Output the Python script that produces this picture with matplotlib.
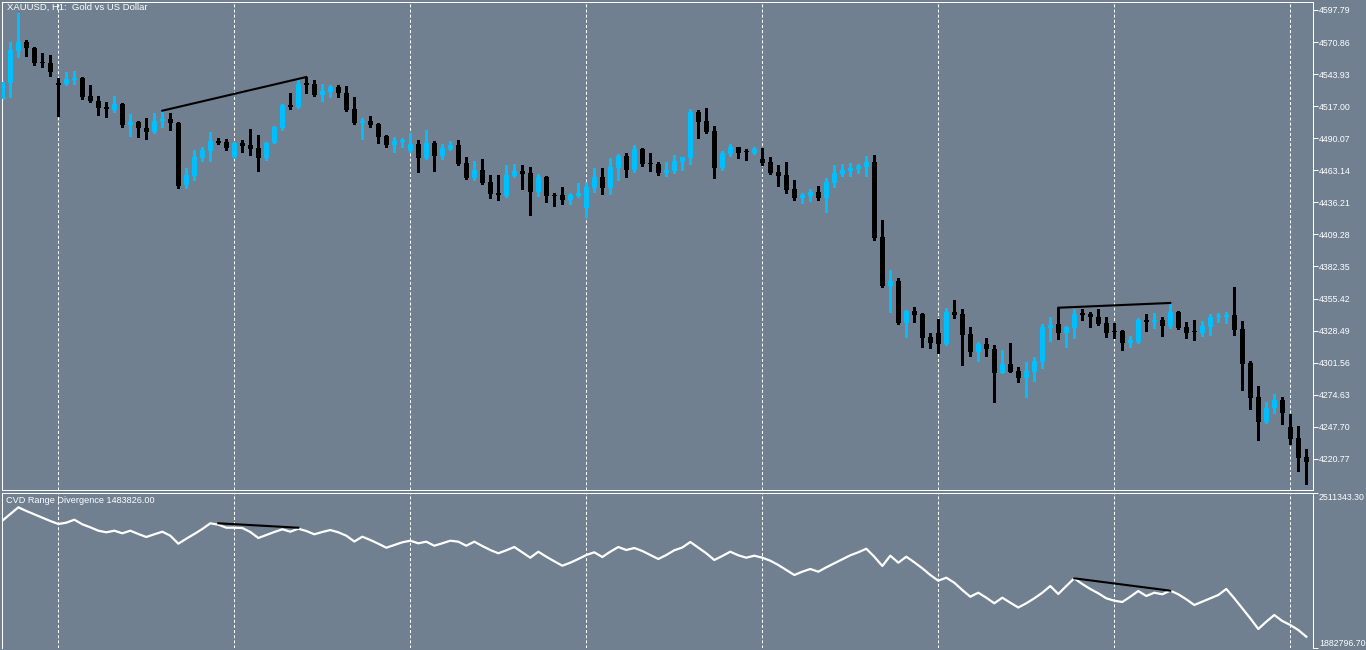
import numpy as np
import matplotlib
matplotlib.use('Agg')
import matplotlib.pyplot as plt

plt.rcParams['font.family'] = ['Liberation Sans', 'DejaVu Sans']
plt.rcParams['lines.scale_dashes'] = False

# XAUUSD H1 bars (oldest -> newest)
open_ = [4523.0, 4536.5, 4563.4, 4570.9, 4565.9, 4553.7, 4553.3, 4535.6, 4535.6, 4539.0,
         4540.7, 4525.6, 4521.4, 4516.3, 4513.8, 4518.8, 4501.2, 4503.7, 4498.7, 4495.3,
         4504.6, 4506.2, 4502.9, 4450.8, 4458.4, 4473.5, 4479.4, 4487.8, 4486.9, 4474.3,
         4486.1, 4484.4, 4481.9, 4473.5, 4486.1, 4498.7, 4518.0, 4516.3, 4535.6, 4535.6,
         4526.4, 4528.9, 4533.1, 4528.1, 4514.6, 4502.9, 4504.6, 4502.0, 4492.0, 4484.4,
         4486.9, 4479.4, 4485.2, 4473.5, 4486.1, 4475.2, 4481.0, 4484.4, 4469.3, 4456.7,
         4463.4, 4453.3, 4444.1, 4441.6, 4458.4, 4462.6, 4460.9, 4444.9, 4457.5, 4442.4,
         4442.4, 4438.2, 4441.6, 4431.5, 4448.3, 4457.5, 4448.3, 4465.1, 4475.2, 4463.4,
         4481.0, 4469.3, 4468.4, 4460.9, 4462.6, 4470.1, 4473.5, 4512.1, 4504.6, 4496.2,
         4465.1, 4476.8, 4482.7, 4478.9, 4477.7, 4472.6, 4470.1, 4461.7, 4459.2, 4447.4,
         4439.9, 4441.6, 4444.9, 4439.9, 4452.5, 4460.0, 4462.6, 4464.2, 4465.9, 4470.1,
         4407.1, 4366.0, 4370.2, 4334.9, 4345.0, 4342.4, 4323.1, 4326.5, 4317.2, 4344.1,
         4342.4, 4325.6, 4310.5, 4317.2, 4313.0, 4292.9, 4300.4, 4294.6, 4288.7, 4293.7,
         4302.1, 4330.7, 4334.0, 4326.5, 4330.7, 4342.9, 4342.4, 4339.9, 4334.9, 4328.2,
         4328.2, 4318.1, 4318.9, 4337.4, 4335.7, 4337.4, 4332.4, 4344.1, 4331.5, 4327.3,
         4326.5, 4331.5, 4339.9, 4339.9, 4341.6, 4329.8, 4301.3, 4272.7, 4251.7, 4263.5,
         4270.2, 4247.5, 4238.3, 4222.3]
high = [4539.0, 4570.9, 4595.3, 4572.6, 4566.7, 4561.7, 4560.0, 4540.7, 4545.7, 4546.6,
        4541.5, 4534.8, 4525.6, 4520.5, 4525.6, 4519.7, 4510.4, 4504.6, 4507.1, 4511.3,
        4513.0, 4511.3, 4503.7, 4465.1, 4480.2, 4482.7, 4495.3, 4490.3, 4489.4, 4486.9,
        4488.6, 4497.8, 4492.8, 4486.9, 4500.4, 4518.8, 4528.1, 4539.0, 4541.5, 4539.0,
        4535.6, 4534.8, 4534.8, 4534.0, 4524.7, 4507.1, 4508.8, 4502.9, 4492.4, 4491.1,
        4490.3, 4494.5, 4488.6, 4497.0, 4487.8, 4485.2, 4487.8, 4488.6, 4474.3, 4471.0,
        4472.6, 4459.2, 4459.2, 4467.6, 4468.4, 4467.6, 4465.9, 4460.0, 4458.4, 4444.1,
        4449.1, 4444.1, 4452.5, 4453.3, 4465.1, 4465.1, 4473.5, 4476.8, 4477.7, 4484.4,
        4481.9, 4477.7, 4470.1, 4470.1, 4476.0, 4474.7, 4514.6, 4513.8, 4515.5, 4500.4,
        4479.4, 4485.2, 4483.1, 4481.0, 4482.7, 4481.9, 4474.3, 4467.6, 4470.1, 4455.0,
        4444.1, 4447.4, 4450.0, 4456.7, 4467.6, 4468.4, 4469.3, 4468.4, 4475.2, 4476.0,
        4421.4, 4379.4, 4372.7, 4345.8, 4348.3, 4343.3, 4326.5, 4338.2, 4347.5, 4354.2,
        4346.6, 4331.5, 4318.9, 4322.3, 4316.4, 4312.2, 4318.1, 4297.9, 4302.1, 4306.3,
        4334.0, 4339.9, 4347.5, 4332.4, 4346.6, 4346.6, 4344.1, 4346.6, 4339.9, 4334.9,
        4329.0, 4324.0, 4339.1, 4342.4, 4343.3, 4339.9, 4351.7, 4344.9, 4335.7, 4337.4,
        4336.6, 4342.4, 4343.3, 4344.1, 4365.1, 4336.6, 4303.0, 4282.0, 4268.5, 4275.2,
        4272.7, 4258.4, 4248.4, 4229.0]
low = [4522.2, 4524.7, 4558.3, 4559.2, 4551.6, 4549.9, 4542.4, 4508.8, 4534.8, 4535.6,
       4523.0, 4520.5, 4509.6, 4507.9, 4512.1, 4499.5, 4492.0, 4491.1, 4489.4, 4494.5,
       4499.5, 4497.0, 4448.3, 4448.3, 4455.0, 4471.0, 4471.0, 4485.2, 4480.2, 4473.5,
       4478.5, 4476.0, 4462.6, 4471.8, 4485.7, 4497.0, 4514.6, 4515.5, 4528.1, 4525.6,
       4521.4, 4524.7, 4524.7, 4513.0, 4502.0, 4489.4, 4499.5, 4486.1, 4482.7, 4478.5,
       4482.7, 4478.5, 4461.7, 4472.6, 4462.6, 4472.6, 4480.2, 4467.6, 4455.8, 4455.0,
       4451.6, 4439.9, 4438.2, 4440.7, 4457.5, 4447.4, 4425.6, 4441.6, 4436.5, 4433.2,
       4434.8, 4434.8, 4440.7, 4423.9, 4444.9, 4443.2, 4443.2, 4455.0, 4457.5, 4461.7,
       4466.8, 4462.6, 4459.2, 4458.4, 4460.9, 4463.4, 4468.4, 4490.3, 4494.5, 4456.7,
       4463.4, 4475.2, 4473.5, 4471.8, 4476.8, 4467.6, 4460.0, 4449.9, 4444.1, 4438.2,
       4435.7, 4437.4, 4438.2, 4428.1, 4449.1, 4458.4, 4458.4, 4460.9, 4458.4, 4404.6,
       4365.1, 4344.1, 4334.0, 4323.1, 4335.7, 4314.7, 4313.9, 4309.7, 4316.8, 4339.1,
       4299.6, 4307.2, 4303.0, 4307.2, 4268.5, 4292.5, 4293.3, 4285.3, 4272.7, 4286.2,
       4297.1, 4319.8, 4321.4, 4314.7, 4322.3, 4337.4, 4331.5, 4333.2, 4323.1, 4322.3,
       4312.2, 4314.7, 4318.1, 4328.2, 4330.7, 4324.0, 4330.7, 4329.8, 4322.3, 4320.6,
       4324.0, 4324.8, 4335.7, 4334.9, 4324.8, 4278.6, 4262.6, 4236.6, 4250.9, 4259.3,
       4250.0, 4233.2, 4210.6, 4199.6]
close = [4537.3, 4564.2, 4570.9, 4565.9, 4553.3, 4552.9, 4545.7, 4535.2, 4539.8, 4540.7,
         4524.7, 4521.4, 4515.5, 4514.6, 4518.8, 4501.2, 4503.7, 4498.7, 4495.3, 4504.6,
         4506.2, 4502.9, 4450.0, 4459.2, 4474.3, 4480.2, 4487.8, 4486.1, 4481.9, 4486.1,
         4483.6, 4481.0, 4473.5, 4486.1, 4499.5, 4518.0, 4516.3, 4535.6, 4535.2, 4526.4,
         4529.8, 4533.1, 4528.1, 4513.8, 4502.9, 4504.6, 4501.2, 4491.1, 4484.4, 4487.8,
         4488.6, 4485.2, 4473.5, 4486.1, 4475.2, 4481.9, 4484.4, 4468.4, 4456.7, 4463.4,
         4452.5, 4443.2, 4442.4, 4459.2, 4462.6, 4460.0, 4444.9, 4457.5, 4441.6, 4441.6,
         4438.2, 4442.4, 4444.1, 4449.1, 4457.5, 4448.3, 4465.9, 4475.2, 4463.4, 4481.0,
         4468.4, 4468.4, 4460.9, 4463.4, 4471.0, 4474.3, 4512.1, 4503.7, 4495.3, 4465.1,
         4477.7, 4482.7, 4477.7, 4478.1, 4481.0, 4469.3, 4460.9, 4458.4, 4446.6, 4439.9,
         4442.4, 4444.9, 4439.9, 4453.3, 4460.9, 4463.4, 4465.1, 4466.8, 4470.1, 4406.3,
         4366.0, 4370.2, 4334.9, 4345.0, 4341.6, 4322.3, 4318.1, 4317.2, 4344.1, 4341.6,
         4324.8, 4310.5, 4317.2, 4313.0, 4292.9, 4300.4, 4293.7, 4288.7, 4294.6, 4303.0,
         4331.5, 4333.2, 4326.5, 4331.5, 4342.4, 4342.0, 4339.9, 4334.0, 4326.5, 4327.3,
         4318.1, 4320.6, 4337.4, 4335.7, 4337.4, 4332.4, 4344.1, 4330.7, 4326.5, 4326.9,
         4332.4, 4339.9, 4340.8, 4341.6, 4329.0, 4300.4, 4271.9, 4251.7, 4263.5, 4270.2,
         4259.3, 4237.4, 4221.5, 4218.1]

# CVD Range Divergence indicator
cvd = [2399000, 2426200, 2453300, 2438400, 2425000, 2411200, 2397800, 2385600, 2390900, 2403100,
       2384400, 2372200, 2358500, 2352000, 2358500, 2347900, 2358500, 2345100, 2332900, 2343900,
       2354400, 2338200, 2305800, 2326000, 2345100, 2365400, 2388500, 2382800, 2370600, 2370600,
       2369400, 2353200, 2328900, 2341000, 2353200, 2364100, 2354400, 2366600, 2357200, 2343900,
       2353200, 2361300, 2352000, 2338200, 2314700, 2334100, 2320800, 2305800, 2289500, 2300500,
       2311400, 2317900, 2307400, 2313900, 2297600, 2307400, 2317900, 2313900, 2297600, 2313900,
       2296400, 2280200, 2266800, 2279000, 2292400, 2270900, 2249000, 2273300, 2253000, 2234400,
       2216500, 2228700, 2243700, 2259900, 2270900, 2251800, 2273300, 2292400, 2280200, 2288300,
       2276200, 2259900, 2243700, 2259900, 2279000, 2290300, 2312700, 2289500, 2266800, 2239700,
       2255900, 2273300, 2258700, 2249000, 2257100, 2249000, 2236800, 2219400, 2199100, 2178800,
       2192200, 2203200, 2192200, 2210000, 2226300, 2242500, 2258700, 2270900, 2285500, 2253000,
       2215300, 2257100, 2228700, 2253000, 2230300, 2206000, 2178800, 2155700, 2167900, 2147600,
       2118000, 2090800, 2107000, 2086800, 2064100, 2086800, 2066500, 2047000, 2064100, 2084300,
       2107000, 2134200, 2101800, 2134200, 2165400, 2142300, 2122100, 2104600, 2084300, 2074600,
       2069300, 2090800, 2113900, 2093700, 2107000, 2100600, 2115200, 2100600, 2080300, 2057200,
       2070600, 2084300, 2097700, 2122100, 2084300, 2043800, 2003200, 1959800, 1989500, 2016600,
       1992300, 1976100, 1955800, 1928600]

# divergence lines: (bar index, value)
price_div = [([20, 38], [4513.2, 4541.5]), ([132, 146], [4347.7, 4351.7])]
cvd_div = [([27, 37], [2388500, 2370600]), ([134, 146], [2165400, 2115200])]

# day separators (bar index)
day_breaks = [7, 29, 51, 73, 95, 117, 139, 161]

price_ticks = [4597.79, 4570.86, 4543.93, 4517.00, 4490.07, 4463.14, 4436.21, 4409.28,
               4382.35, 4355.42, 4328.49, 4301.56, 4274.63, 4247.70, 4220.77]
cvd_range = [1882796.70, 2511343.30]

title = 'XAUUSD, H1:  Gold vs US Dollar'
ind_title = 'CVD Range Divergence 1483826.00'

BG = '#708090'
BULL = '#00BFFF'
BEAR = '#000000'
FG = '#FFFFFF'
W, H = 1366, 650
FS = 6.3


def frac(l, t, r, b):
    return [l / W, 1 - b / H, (r - l) / W, (b - t) / H]


fig = plt.figure(figsize=(W / 100, H / 100), dpi=100, facecolor=BG)
ax = fig.add_axes(frac(2, 1.7, 1313, 490), facecolor=BG)
ax2 = fig.add_axes(frac(2, 493, 1313, 648), facecolor=BG)

o = np.array(open_)
h = np.array(high)
l = np.array(low)
c = np.array(close)
x = np.arange(len(c))
col = np.where(c > o, BULL, BEAR)

ax.vlines(x, l, h, colors=col, lw=0.8, antialiased=False, zorder=2)
ax.bar(x, np.maximum(np.abs(c - o), 0.9), bottom=np.minimum(o, c), width=0.62,
       color=col, linewidth=0, antialiased=False, zorder=3)
for xs, ys in price_div:
    ax.plot(xs, ys, color='black', lw=1.5, zorder=4)

ax2.plot(x, cvd, color=FG, lw=1.6, zorder=3)
for xs, ys in cvd_div:
    ax2.plot(xs, ys, color='black', lw=1.5, zorder=4)

for a in (ax, ax2):
    for k in day_breaks:
        a.axvline(k, color=FG, lw=0.75, ls=(0, (2.2, 1.5)), zorder=1)
    a.set_xlim(-0.04, 163.84)
    a.set_xticks([])
    a.yaxis.tick_right()
    a.tick_params(axis='y', colors=FG, length=3.6, width=0.75, pad=0.6, labelsize=FS)
    for s in a.spines.values():
        s.set_color(FG)
        s.set_linewidth(0.75)

ax.set_ylim(4194.59, 4604.76)
ax.set_yticks(price_ticks)
ax.set_yticklabels([f'{v:.2f}' for v in price_ticks])

ax2.set_ylim(cvd_range[0], cvd_range[1])
ax2.set_yticks(cvd_range)
ax2.set_yticklabels([f'{v:.2f}' for v in cvd_range])
ax2.spines['bottom'].set_visible(False)
lbls = ax2.get_yticklabels()
lbls[0].set_va('bottom')
lbls[1].set_va('top')

fig.text(7 / W, 1 - 3 / H, title, color=FG, fontsize=6.8, ha='left', va='top')
fig.text(6 / W, 1 - 496 / H, ind_title, color=FG, fontsize=6.6, ha='left', va='top')

fig.savefig('out.png', dpi=100, facecolor=BG)
